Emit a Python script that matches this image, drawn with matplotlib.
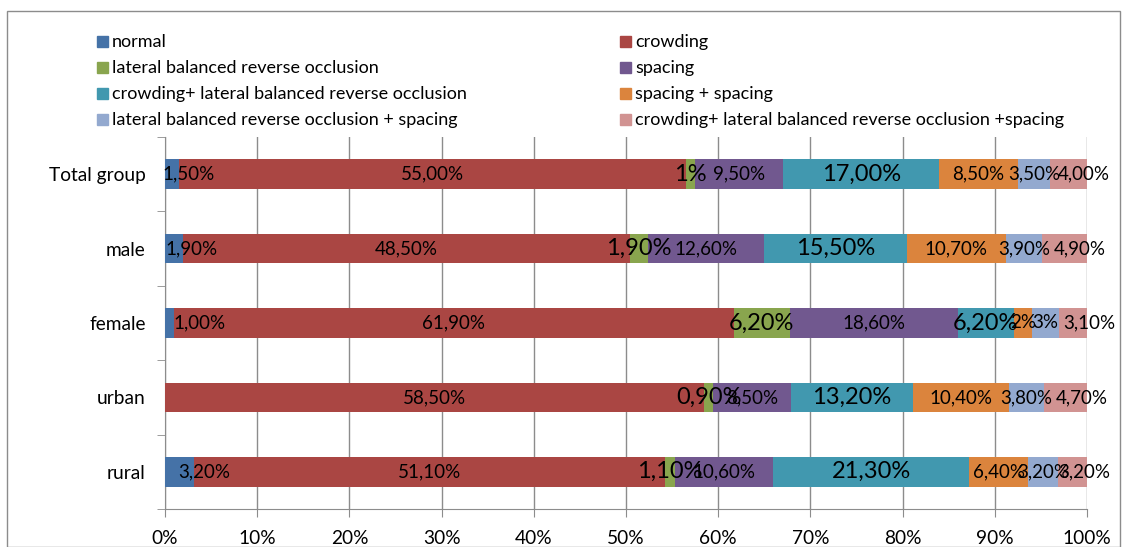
import matplotlib
matplotlib.use("Agg")
import matplotlib.pyplot as plt
from matplotlib.patches import Rectangle
import numpy as np

plt.rcParams['font.family'] = ['Lato', 'DejaVu Sans']

categories = ["Total group", "male", "female", "urban", "rural"]
series_names = [
    "normal",
    "crowding",
    "lateral balanced reverse occlusion",
    "spacing",
    "crowding+ lateral balanced reverse occlusion",
    "spacing + spacing",
    "lateral balanced reverse occlusion + spacing",
    "crowding+ lateral balanced reverse occlusion +spacing",
]
normal = [1.5, 1.9, 1.0, 0.0, 3.2]
crowding = [55.0, 48.5, 61.9, 58.5, 51.1]
lateral = [1.0, 1.9, 6.2, 0.9, 1.1]
spacing = [9.5, 12.6, 18.6, 8.5, 10.6]
crowd_lat = [17.0, 15.5, 6.2, 13.2, 21.3]
spacing_spacing = [8.5, 10.7, 2.0, 10.4, 6.4]
lat_spacing = [3.5, 3.9, 3.0, 3.8, 3.2]
crowd_lat_spacing = [4.0, 4.9, 3.1, 4.7, 3.2]
labels = {
    "normal": ["1,50%", "1,90%", "1,00%", None, "3,20%"],
    "crowding": ["55,00%", "48,50%", "61,90%", "58,50%", "51,10%"],
    "lateral": ["1%", "1,90%", "6,20%", "0,90%", "1,10%"],
    "spacing": ["9,50%", "12,60%", "18,60%", "8,50%", "10,60%"],
    "crowd_lat": ["17,00%", "15,50%", "6,20%", "13,20%", "21,30%"],
    "spacing_spacing": ["8,50%", "10,70%", "2%", "10,40%", "6,40%"],
    "lat_spacing": ["3,50%", "3,90%", "3%", "3,80%", "3,20%"],
    "crowd_lat_spacing": ["4,00%", "4,90%", "3,10%", "4,70%", "3,20%"],
}
keys = ["normal", "crowding", "lateral", "spacing", "crowd_lat",
        "spacing_spacing", "lat_spacing", "crowd_lat_spacing"]
data = [normal, crowding, lateral, spacing, crowd_lat,
        spacing_spacing, lat_spacing, crowd_lat_spacing]
colors = ["#4572A7", "#AA4643", "#89A54E", "#71588F",
          "#4198AF", "#DB843D", "#93A9CF", "#D19392"]
big = {"lateral", "crowd_lat"}
# horizontal label shifts (pixels) as placed in the original chart
label_shift = {
    "normal": [17, 18, 30, 0, 24],
    "crowd_lat_spacing": [15, 15, 16, 16, 12],
}

W, H = 1126, 547
fig = plt.figure(figsize=(W / 100, H / 100), dpi=100)
fig.patches.append(Rectangle((7 / W, 0), (1120 - 7) / W, 1 - 11 / H,
                             transform=fig.transFigure, fill=False,
                             edgecolor="#8c8c8c", linewidth=1.0))

ax = fig.add_axes([165 / W, 1 - 509 / H, (1087 - 165) / W, (509 - 137) / H])

arr = np.array(data, dtype=float)
totals = arr.sum(axis=0)
pct = arr / totals * 100
y = np.arange(len(categories))
left = np.zeros(len(categories))
for k, vals, c in zip(keys, pct, colors):
    ax.barh(y, vals, left=left, height=0.4, color=c, zorder=3)
    shifts = label_shift.get(k, [0] * len(categories))
    for i in range(len(categories)):
        lab = labels[k][i]
        if lab is not None:
            ax.annotate(lab, (left[i] + vals[i] / 2, y[i]),
                        xytext=(shifts[i], 0), textcoords="offset pixels",
                        ha="center", va="center",
                        fontsize=17 if k in big else 13.5, color="black",
                        zorder=4, annotation_clip=False)
    left += vals

ax.set_xlim(0, 100)
ax.set_ylim(len(categories) - 0.5, -0.5)
ax.set_xticks(np.arange(0, 101, 10))
ax.set_xticklabels([f"{v}%" for v in range(0, 101, 10)], fontsize=13.8)
ax.set_yticks(y)
ax.set_yticklabels(categories, fontsize=13.8)
ax.set_yticks(np.arange(-0.5, len(categories), 1), minor=True)
ax.tick_params(axis="y", which="major", length=0, pad=14)
ax.tick_params(axis="y", which="minor", length=6, color="#8c8c8c", direction="out")
ax.tick_params(axis="x", length=6, color="#8c8c8c", direction="out", pad=9)
ax.grid(axis="x", color="#8c8c8c", linewidth=1.0, zorder=0)
for s in ["top", "right"]:
    ax.spines[s].set_visible(False)
for s in ["left", "bottom"]:
    ax.spines[s].set_color("#8c8c8c")

# legend (row-major, two columns)
col_x = [97, 620]
row_y = [42, 68, 94, 120]
for idx, (name, c) in enumerate(zip(series_names, colors)):
    r, cidx = idx // 2, idx % 2
    x0 = col_x[cidx]
    y0 = row_y[r]
    fig.patches.append(Rectangle((x0 / W, 1 - (y0 + 5) / H), 11 / W, 11 / H,
                                 transform=fig.transFigure, color=c))
    fig.text((x0 + 15) / W, 1 - y0 / H, name, fontsize=13,
             ha="left", va="center")

fig.savefig("out.png", dpi=100)
